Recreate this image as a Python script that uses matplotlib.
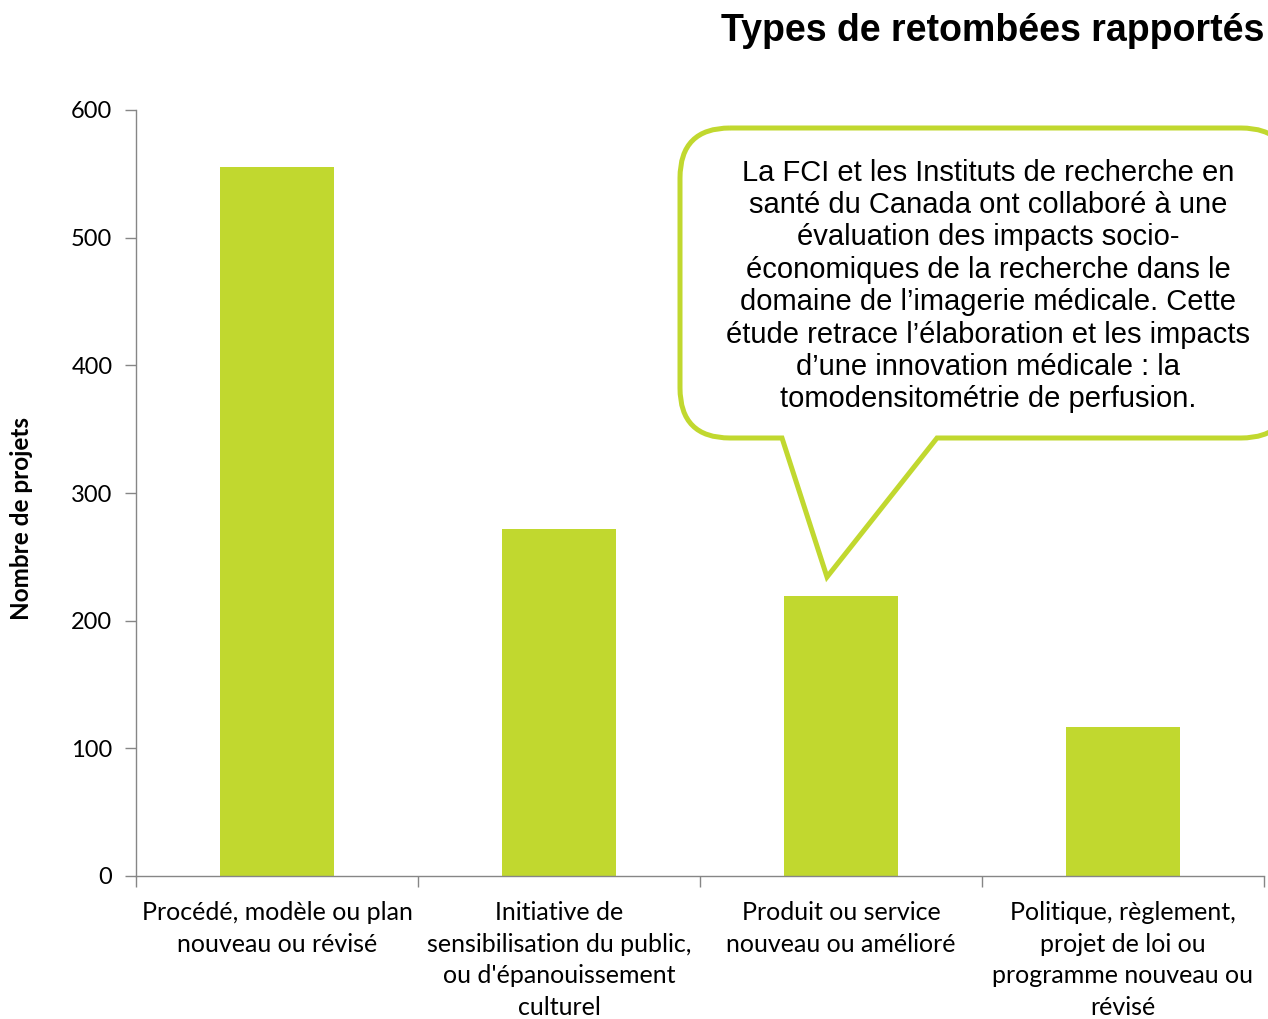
import numpy as np
import matplotlib
matplotlib.use('Agg')
import matplotlib.pyplot as plt
from matplotlib.path import Path
from matplotlib.patches import PathPatch

# data
categories = ['Procédé, modèle ou plan\nnouveau ou révisé',
              'Initiative de\nsensibilisation du public,\nou d\'épanouissement\nculturel',
              'Produit ou service\nnouveau ou amélioré',
              'Politique, règlement,\nprojet de loi ou\nprogramme nouveau ou\nrévisé']
values = [555, 272, 219, 117]
yticks = [0, 100, 200, 300, 400, 500, 600]

title = 'Types de retombées rapportés'
ylabel = 'Nombre de projets'
note = ("La FCI et les Instituts de recherche en\n"
        "santé du Canada ont collaboré à une\n"
        "évaluation des impacts socio-\n"
        "économiques de la recherche dans le\n"
        "domaine de l\u2019imagerie médicale. Cette\n"
        "étude retrace l\u2019élaboration et les impacts\n"
        "d\u2019une innovation médicale : la\n"
        "tomodensitométrie de perfusion.")

green = '#C1D82F'
grey = '#868686'
W, H = 1268, 1019

fig = plt.figure(figsize=(W/100, H/100), dpi=100)
ax = fig.add_axes([136/W, 143/H, (1264-136)/W, (876-110)/H])

x = np.arange(len(values))
ax.bar(x, values, width=0.405, color=green, zorder=2)

ax.set_xlim(-0.5, len(values)-0.5)
ax.set_ylim(0, 600)
ax.set_yticks(yticks)
ax.set_xticks(x)
ax.set_xticklabels(categories, family='Lato', fontsize=18, linespacing=1.45)
ax.set_xticks(np.arange(len(values)+1)-0.5, minor=True)
ax.tick_params(axis='x', which='major', length=0, pad=18)
ax.tick_params(axis='x', which='minor', length=8, color=grey, width=1)
ax.tick_params(axis='y', length=8, color=grey, width=1, pad=9, labelsize=17)
for lab in ax.get_yticklabels():
    lab.set_family('Lato')
for s in ['top', 'right']:
    ax.spines[s].set_visible(False)
for s in ['left', 'bottom']:
    ax.spines[s].set_color(grey)
    ax.spines[s].set_linewidth(1)

fig.text(22/W, 1-518/H, ylabel, rotation=90, ha='center', va='center',
         family='Lato', fontsize=17.5, fontweight='bold')

fig.text(1264/W, 1-31/H, title, ha='right', va='center',
         family='Liberation Sans', fontsize=27, fontweight='bold')

# callout bubble (pixel coords, y downwards)
L, R, T, B, r = 680, 1291, 128, 438, 50
t1, tip, t2 = (782, B), (827, 577), (937, B)
pts = [(L+r, T), (R-r, T), (R, T), (R, T+r), (R, B-r), (R, B), (R-r, B),
       t2, tip, t1, (L+r, B), (L, B), (L, B-r), (L, T+r), (L, T), (L+r, T)]
codes = [Path.MOVETO, Path.LINETO, Path.CURVE3, Path.CURVE3, Path.LINETO,
         Path.CURVE3, Path.CURVE3, Path.LINETO, Path.LINETO, Path.LINETO,
         Path.LINETO, Path.CURVE3, Path.CURVE3, Path.LINETO, Path.CURVE3,
         Path.CURVE3]
pts = [(px/W, 1-py/H) for px, py in pts]
bubble = PathPatch(Path(pts, codes), facecolor='white', edgecolor=green,
                   linewidth=3.6, transform=fig.transFigure, zorder=5,
                   joinstyle='miter')
fig.patches.append(bubble)
fig.text(988/W, 1-286/H, note, ha='center', va='center', family='Liberation Sans',
         fontsize=21, linespacing=1.2, zorder=6)

fig.savefig('out.png', dpi=100)
